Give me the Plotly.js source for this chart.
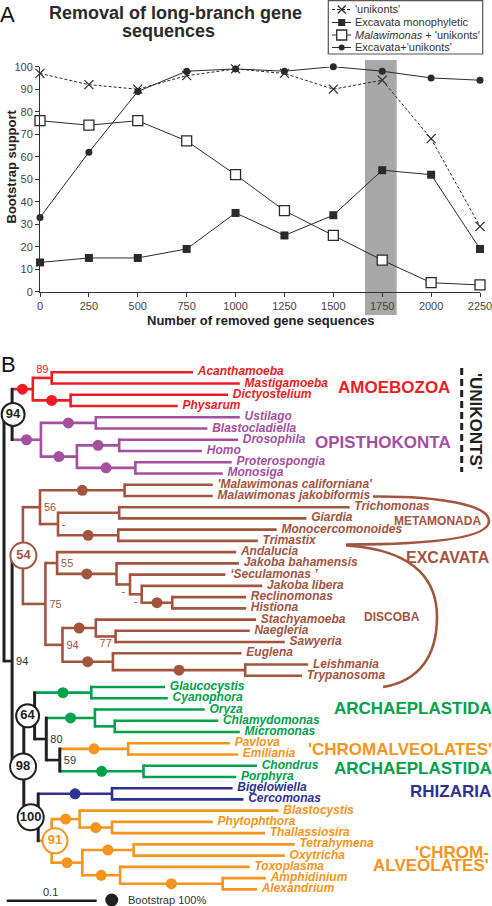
<!DOCTYPE html>
<html><head><meta charset="utf-8">
<script src="https://cdn.plot.ly/plotly-3.0.1.min.js"></script>
<style>html,body{margin:0;padding:0;background:#fff}#chart{width:492px;height:906px}</style>
</head><body><div id="chart"></div>
<script>
// ---------------- Panel A data ----------------
const removed = [0, 250, 500, 750, 1000, 1250, 1500, 1750, 2000, 2250];
const unikonts = [97, 92, 90, 96, 99, 97, 90, 94, 68, 29];
const excavataMono = [13, 15, 15, 19, 35, 25, 34, 54, 52, 19];
const malawiUnikonts = [76, 74, 76, 67, 52, 36, 25, 14, 4, 3];
const excavataUnikonts = [33, 62, 89, 98, 99, 98, 100, 98, 95, 94];
const seriesNames = ["'unikonts'", "Excavata monophyletic", "<i>Malawimonas</i> + 'unikonts'", "Excavata+'unikonts'"];
const highlightRange = [1662, 1824];
const yTickVals = [0, 10, 20, 30, 40, 50, 60, 70, 80, 90, 100];

// ---------------- Panel B tree (preorder) ----------------
const nodeIds = ["R","U","AM","AM1","Acanthamoeba","Mastigamoeba","AM2","Dictyostelium","Physarum",
 "OP","FU","Ustilago","Blastocladiella","HZ","DH","Drosophila","Homo","PM","Proterospongia","Monosiga",
 "X","EX","N56","MAL","'Malawimonas californiana'","Malawimonas jakobiformis","MET","TG","Trichomonas","Giardia",
 "MT","Monocercomonoides","Trimastix","DIS","JAK","Andalucia","J1","Jakoba bahamensis","J2","\u2018Seculamonas \u2019",
 "J3","Jakoba libera","RH","Reclinomonas","Histiona","DC","HL","Stachyamoeba","NS","Naegleria","Sawyeria",
 "EG","Euglena","TR","Leishmania","Trypanosoma",
 "N98","N64","GL","Glaucocystis","Cyanophora","N80","VP","Oryza","CM","Chlamydomonas","Micromonas",
 "N59","HA","Pavlova","Emiliania","RA","Chondrus","Porphyra",
 "N100","RZ","Bigelowiella","Cercomonas","CA","ST","Blastocystis","PT","Phytophthora","Thallassiosira",
 "AL","CI","Tetrahymena","Oxytricha","TD","Toxoplasma","DN","Amphidinium","Alexandrium"];
const nodeParents = [null,"R","U","AM","AM1","AM1","AM","AM2","AM2",
 "U","OP","FU","FU","OP","HZ","DH","DH","HZ","PM","PM",
 "R","X","EX","N56","MAL","MAL","N56","MET","TG","TG",
 "MET","MT","MT","EX","DIS","JAK","JAK","J1","J1","J2",
 "J2","J3","J3","RH","RH","DIS","DC","HL","HL","NS","NS",
 "DC","EG","EG","TR","TR",
 "X","N98","N64","GL","GL","N64","N80","VP","VP","CM","CM",
 "N80","N59","HA","HA","N59","RA","RA",
 "N98","N100","RZ","RZ","N100","CA","ST","ST","PT","PT",
 "CA","AL","CI","CI","AL","TD","TD","DN","DN"];
// distance from root, substitutions per site
const nodeDepths = [0,0.009,0.032,0.053,0.210,0.262,0.074,0.249,0.193,
 0.041,0.102,0.262,0.226,0.081,0.128,0.260,0.220,0.146,0.253,0.243,
 0.009,0.021,0.040,0.134,0.232,0.232,0.060,0.128,0.384,0.336,
 0.127,0.303,0.282,0.046,0.059,0.258,0.125,0.261,0.140,0.246,
 0.153,0.287,0.187,0.269,0.269,0.065,0.102,0.280,0.124,0.273,0.312,
 0.121,0.264,0.268,0.338,0.331,
 0.022,0.034,0.097,0.179,0.182,0.047,0.101,0.223,0.123,0.238,0.262,
 0.062,0.138,0.251,0.260,0.155,0.281,0.258,
 0.038,0.120,0.254,0.266,0.053,0.084,0.305,0.120,0.232,0.290,
 0.087,0.144,0.323,0.312,0.129,0.273,0.243,0.291,0.281];
// bootstrap support: "100" = dot, "cNN" = circled key node
const nodeSupport = ["","c94","100","89","","","100","","",
 "100","100","","","100","100","","","100","","",
 "94","c54","56","100","","","-","","","",
 "100","","","75","55","","100","","-","",
 "-","","100","","","94","100","","77","","",
 "100","","100","","",
 "c98","c64","100","","","80","100","","","","",
 "59","100","","","100","","",
 "c100","100","","","c91","100","","100","","",
 "100","100","","","100","","100","",""];
// supergroup of each branch ("" = same as parent)
const nodeClade = ["bb","bb","AMO","","","","","","",
 "OPI","","","","","","","","","","",
 "bb","EXC","","","","","","","","",
 "","","","","","","","","","",
 "","","","","","","","","","","",
 "","","","","",
 "bb","bb","ARC","","","bb","ARC","","","","",
 "bb","CHR","","","ARC","","",
 "bb","RHI","","","CHR","","","","","",
 "","","","","","","","",""];

// ---------------- styling ----------------
const W = 492, H = 906;
const F = '"Liberation Sans", Arial, Helvetica, sans-serif';
const cladeColors = {bb:'#231f20', AMO:'#ed1c24', OPI:'#a54f9f', EXC:'#a3543f', ARC:'#00a14b', CHR:'#f7941d', RHI:'#2e3192'};
const labelColor = c => c === 'bb' ? '#333333' : cladeColors[c];
const labelPlacement = {AM1:'a', NS:'b', J2:'b', J3:'b'};
const circleStyle = {U:{dx:1,size:23}, EX:{dx:0.5,size:26}, N64:{dx:-7,size:23}, N98:{dx:-0.7,size:26}, N100:{dx:-7.5,size:26}, CA:{dx:3.3,size:25}};
const pxPerLeaf = 11.24, firstLeafPx = 372.3;
const pxPerSub = 900, rootPx = 4;
const xUnit = 1 / pxPerSub, yUnit = 1 / pxPerLeaf;
const LW = 2.6;
const lineCol = '#2a2a2a';

// ---------------- tree layout ----------------
const N = nodeIds.length;
const idx = {}; nodeIds.forEach((id, i) => idx[id] = i);
const children = nodeIds.map(() => []);
nodeParents.forEach((p, i) => { if (p !== null) children[idx[p]].push(i); });
const clade = [];
nodeIds.forEach((id, i) => { clade[i] = nodeClade[i] || clade[idx[nodeParents[i]]]; });
const ypos = new Array(N); let leafCount = 0;
(function setY(i){
  if (children[i].length === 0) { ypos[i] = leafCount++; return; }
  children[i].forEach(setY);
  const c = children[i]; ypos[i] = (ypos[c[0]] + ypos[c[c.length-1]]) / 2;
})(0);
const d = nodeDepths;

const hSegs = {}, vSegs = {};
function addSeg(store, col, xs, ys){ if(!store[col]) store[col] = {x:[], y:[]}; store[col].x.push(...xs, null); store[col].y.push(...ys, null); }
const e = LW / 2 * yUnit;
for (let i = 0; i < N; i++) {
  const c = children[i];
  if (c.length) addSeg(vSegs, clade[i], [d[i], d[i]], [ypos[c[0]] - e, ypos[c[c.length-1]] + e]);
  if (nodeParents[i] !== null) { const p = idx[nodeParents[i]]; addSeg(hSegs, clade[i], [d[p], d[i]], [ypos[i], ypos[i]]); }
}

const traces = [];
// Panel A
traces.push({x:removed, y:excavataUnikonts, type:'scatter', mode:'lines+markers', name:seriesNames[3], line:{color:lineCol, width:1}, marker:{symbol:'circle', size:7, color:lineCol}, cliponaxis:false, xaxis:'x', yaxis:'y'});
traces.push({x:removed, y:unikonts, type:'scatter', mode:'lines+markers', name:seriesNames[0], line:{color:lineCol, width:1, dash:'3px,2px'}, marker:{symbol:'x-thin', size:9, line:{color:lineCol, width:1.2}}, cliponaxis:false, xaxis:'x', yaxis:'y'});
traces.push({x:removed, y:excavataMono, type:'scatter', mode:'lines+markers', name:seriesNames[1], line:{color:lineCol, width:1}, marker:{symbol:'square', size:8, color:lineCol}, cliponaxis:false, xaxis:'x', yaxis:'y'});
traces.push({x:removed, y:malawiUnikonts, type:'scatter', mode:'lines+markers', name:seriesNames[2], line:{color:lineCol, width:1}, marker:{symbol:'square', size:10, color:'#ffffff', line:{color:lineCol, width:1.3}}, cliponaxis:false, xaxis:'x', yaxis:'y'});

// Panel B branches
for (const col in hSegs) traces.push({x:hSegs[col].x, y:hSegs[col].y, type:'scatter', mode:'lines', line:{color:cladeColors[col], width:LW}, cliponaxis:false, xaxis:'x2', yaxis:'y2', hoverinfo:'skip'});
for (const col in vSegs) traces.push({x:vSegs[col].x, y:vSegs[col].y, type:'scatter', mode:'lines', line:{color:cladeColors[col], width:(col==='bb'?3:LW)}, cliponaxis:false, xaxis:'x2', yaxis:'y2', hoverinfo:'skip'});

// bootstrap 100% dots at branch midpoints
const dot = {x:[], y:[], c:[]};
const lab = {r:{x:[],y:[],t:[],c:[]}, m:{x:[],y:[],t:[],c:[]}};
const circ = {x:[], y:[], t:[], c:[], s:[]};
for (let i = 0; i < N; i++) {
  const s = nodeSupport[i]; if (!s) continue;
  const p = nodeParents[i] !== null ? idx[nodeParents[i]] : i;
  if (s === '100') { dot.x.push((d[p]+d[i])/2); dot.y.push(ypos[i]); dot.c.push(cladeColors[clade[i]]); }
  else if (s[0] === 'c') {
    const st = circleStyle[nodeIds[i]];
    circ.x.push(d[i] + st.dx * xUnit); circ.y.push(ypos[i]); circ.t.push(s.slice(1)); circ.c.push(cladeColors[clade[i]]); circ.s.push(st.size);
  } else {
    const pl = labelPlacement[nodeIds[i]] || 'r';
    if (pl === 'r') { lab.r.x.push(d[i] + 4*xUnit); lab.r.y.push(ypos[i] + 1*yUnit); lab.r.t.push(s); lab.r.c.push(labelColor(clade[i])); }
    else { lab.m.x.push((d[p]+d[i])/2); lab.m.y.push(ypos[i] + (pl==='a'?-8:8)*yUnit); lab.m.t.push(s); lab.m.c.push(labelColor(clade[i])); }
  }
}
traces.push({x:dot.x, y:dot.y, type:'scatter', mode:'markers', marker:{size:11, color:dot.c, opacity:1}, cliponaxis:false, xaxis:'x2', yaxis:'y2'});
traces.push({x:lab.r.x, y:lab.r.y, text:lab.r.t, type:'scatter', mode:'text', textposition:'middle right', textfont:{family:F, size:11, color:lab.r.c}, cliponaxis:false, xaxis:'x2', yaxis:'y2'});
traces.push({x:lab.m.x, y:lab.m.y, text:lab.m.t, type:'scatter', mode:'text', textposition:'middle center', textfont:{family:F, size:11, color:lab.m.c}, cliponaxis:false, xaxis:'x2', yaxis:'y2'});
traces.push({x:circ.x, y:circ.y, text:circ.t, type:'scatter', mode:'markers+text', textposition:'middle center', marker:{size:circ.s, color:'#ffffff', opacity:1, line:{color:circ.c, width:2}}, textfont:{family:F, size:13, color:circ.c, weight:'bold'}, cliponaxis:false, xaxis:'x2', yaxis:'y2'});

// leaf names
const leaf = {x:[], y:[], t:[], c:[]};
for (let i = 0; i < N; i++) if (!children[i].length) { leaf.x.push(d[i]); leaf.y.push(ypos[i]); leaf.t.push(nodeIds[i]); leaf.c.push(cladeColors[clade[i]]); }
traces.push({x:leaf.x, y:leaf.y, text:leaf.t, type:'scatter', mode:'markers+text', textposition:'middle right', marker:{size:6, opacity:0}, textfont:{family:F, size:12, color:leaf.c, weight:'bold', style:'italic'}, cliponaxis:false, xaxis:'x2', yaxis:'y2'});

// legend keys (panel A) and bootstrap key (panel B), pixel overlay axes
const legRows = [9.5, 22.5, 35, 47.5];
const legMarkers = [
  {symbol:'x-thin', size:8, line:{color:lineCol, width:1.2}},
  {symbol:'square', size:7, color:lineCol},
  {symbol:'square', size:10, color:'#ffffff', line:{color:lineCol, width:1.3}},
  {symbol:'circle', size:6, color:lineCol}];
legRows.forEach((r, k) => {
  traces.push({x:[332, 351], y:[r, r], type:'scatter', mode:'lines', line:{color:lineCol, width:1, dash:(k===0?'3px,2px':'solid')}, xaxis:'x3', yaxis:'y3', cliponaxis:false});
  traces.push({x:[341.7], y:[r], type:'scatter', mode:'markers', marker:legMarkers[k], xaxis:'x3', yaxis:'y3', cliponaxis:false});
});
traces.push({x:[111.7], y:[900], type:'scatter', mode:'markers', marker:{size:13, color:'#231f20'}, xaxis:'x3', yaxis:'y3', cliponaxis:false});

// ---------------- annotations & shapes ----------------
function ann(text, x, y, size, color, opts){
  return Object.assign({text:text, x:x/W, y:1-y/H, xref:'paper', yref:'paper', showarrow:false, borderpad:0,
    font:{family:F, size:size, color:color}, xanchor:'left', yanchor:'middle'}, opts||{});
}
const annotations = [
  ann('A', 7.5, 15, 22, '#111', {xanchor:'center'}),
  ann('<b>Removal of long-branch gene</b>', 175, 13.2, 18, '#2a2a2a', {xanchor:'center'}),
  ann('<b>sequences</b>', 168, 31.2, 18, '#2a2a2a', {xanchor:'center'}),
  ann('<b>Bootstrap support</b>', 11, 166.5, 13, '#222', {xanchor:'center', textangle:-90}),
  ann('<b>Number of removed gene sequences</b>', 261, 320, 13, '#222', {xanchor:'center'}),
  ann('B', 8.3, 365, 22, '#111', {xanchor:'center'}),
  ann('<b>AMOEBOZOA</b>', 336.7, 388, 17, cladeColors.AMO),
  ann('<b>OPISTHOKONTA</b>', 314, 442.7, 17, cladeColors.OPI),
  ann("<b>'UNIKONTS'</b>", 476, 421, 17, '#231f20', {xanchor:'center', textangle:90}),
  ann('<b>METAMONADA</b>', 393, 521, 12, cladeColors.EXC),
  ann('<b>EXCAVATA</b>', 491, 557.7, 16, cladeColors.EXC, {xanchor:'right'}),
  ann('<b>DISCOBA</b>', 362.7, 616.7, 12, cladeColors.EXC),
  ann('<b>ARCHAEPLASTIDA</b>', 333, 708, 17, cladeColors.ARC),
  ann("<b>'CHROMALVEOLATES'</b>", 306.7, 749, 17, cladeColors.CHR),
  ann('<b>ARCHAEPLASTIDA</b>', 333, 768.3, 17, cladeColors.ARC),
  ann('<b>RHIZARIA</b>', 409, 791.7, 17, cladeColors.RHI),
  ann("<b>'CHROM-</b>", 490, 852.3, 17, cladeColors.CHR, {xanchor:'right'}),
  ann("<b>ALVEOLATES'</b>", 490, 865.7, 17, cladeColors.CHR, {xanchor:'right'}),
  ann('0.1', 50, 892.3, 11, '#333', {xanchor:'center'}),
  ann('Bootstrap 100%', 126.7, 900, 11, '#333')
];
seriesNames.forEach((n, k) => annotations.push(ann(n, 353.5, legRows[k], 11, '#333')));

const px = (x, y) => (x/W).toFixed(5) + ',' + (1-y/H).toFixed(5);
const shapes = [
  {type:'rect', xref:'x', yref:'paper', x0:highlightRange[0], x1:highlightRange[1], y0:1-315/H, y1:1-60/H, fillcolor:'#a8a8a8', line:{width:0}, layer:'below'},
  {type:'rect', xref:'paper', yref:'paper', x0:328.3/W, x1:482.7/W, y0:1-54/H, y1:1-0.7/H, line:{color:'#555', width:1.2}, fillcolor:'rgba(0,0,0,0)'},
  {type:'line', xref:'paper', yref:'paper', x0:461.7/W, x1:461.7/W, y0:1-368/H, y1:1-472/H, line:{color:'#231f20', width:3, dash:'7px,4px'}},
  {type:'path', xref:'paper', yref:'paper', path:'M'+px(373,496.5)+' C'+px(440,496)+' '+px(489,505)+' '+px(489,521)+' C'+px(489,537)+' '+px(440,544.5)+' '+px(346,544.5), line:{color:cladeColors.EXC, width:2.6}},
  {type:'path', xref:'paper', yref:'paper', path:'M'+px(346,545.5)+' C'+px(420,550)+' '+px(437,585)+' '+px(437,617)+' C'+px(437,655)+' '+px(420,681)+' '+px(383,687), line:{color:cladeColors.EXC, width:2.6}},
  {type:'line', xref:'x2', yref:'paper', x0:0.003, x1:0.103, y0:1-900.7/H, y1:1-900.7/H, line:{color:'#231f20', width:2.6}}
];

const axA = {showline:true, linecolor:'#333', linewidth:1, ticks:'outside', ticklen:4, tickcolor:'#333', tickwidth:1, showgrid:false, zeroline:false, ticklabeloverflow:'allow', tickfont:{family:F, size:11, color:'#444'}};
const hidden = {visible:false, showgrid:false, zeroline:false};
const layout = {
  width:W, height:H, margin:{l:0, r:0, t:0, b:0}, paper_bgcolor:'#ffffff', plot_bgcolor:'rgba(0,0,0,0)', showlegend:false,
  font:{family:F},
  xaxis:Object.assign({}, axA, {domain:[40/W, 480/W], range:[0, 2250], tickvals:removed, anchor:'y'}),
  yaxis:Object.assign({}, axA, {domain:[1-291.7/H, 1-66.7/H], range:[0, 100], tickvals:yTickVals, anchor:'x'}),
  xaxis2:Object.assign({}, hidden, {domain:[0,1], range:[-rootPx*xUnit, (W-rootPx)*xUnit], anchor:'y2'}),
  yaxis2:Object.assign({}, hidden, {domain:[0,1], range:[(H-firstLeafPx)*yUnit, -firstLeafPx*yUnit], anchor:'x2'}),
  xaxis3:Object.assign({}, hidden, {domain:[0,1], range:[0, W], anchor:'y3'}),
  yaxis3:Object.assign({}, hidden, {domain:[0,1], range:[H, 0], anchor:'x3'}),
  annotations:annotations, shapes:shapes
};
Plotly.newPlot('chart', traces, layout, {staticPlot:true, displayModeBar:false});
</script></body></html>
